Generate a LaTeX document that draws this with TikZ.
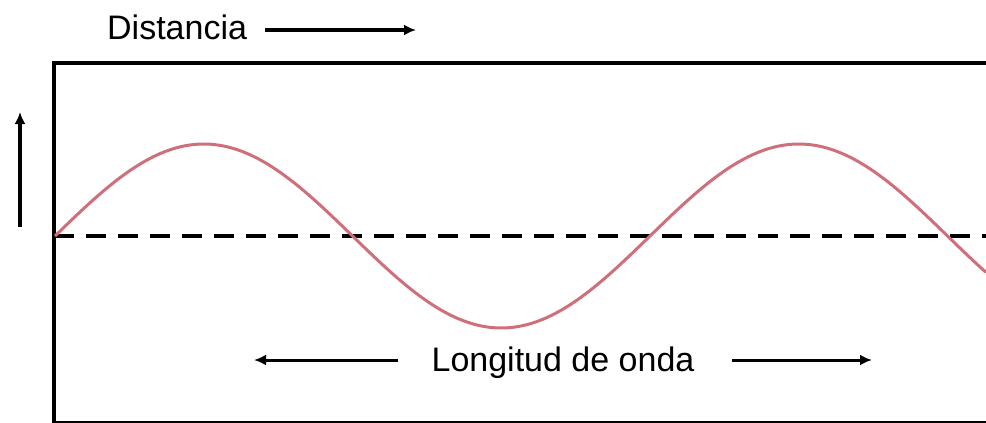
\documentclass[tikz,border=0pt]{standalone}
\usepackage{xcolor}
\usepackage{fontspec}
\setmainfont{Liberation Sans}
\usepackage{tikz}
\usetikzlibrary{positioning, arrows.meta}
\definecolor{wavered}{HTML}{CF6F7A}

\tikzset{
  lbl/.style={inner sep=0pt, font=\fontsize{34}{40}\selectfont},
  arr/.style={line width=4pt, -{Latex[length=12pt, width=11pt]}},
  thinarr/.style={line width=3pt, -{Latex[length=12pt, width=11pt]}},
  frame/.style={line width=4.5pt, line cap=rect},
  midline/.style={line width=4.5pt, dash pattern=on 20pt off 12pt},
  wave/.style={wavered, line width=3pt}
}

\begin{document}
\begin{tikzpicture}[x=1pt, y=-1pt]
    \useasboundingbox (0,0) rectangle (986,423);
    % frame and zero line
    \draw[frame] (54,423) -- (54,63) -- (986,63);
    \draw[line width=1.5pt] (54,422) -- (986,422);
    \draw[midline] (54,236) -- (986,236);
    % the wave
    \draw[wave] plot[domain=55:986, samples=240] (\x, {236-92*sin((\x-55)/595*360)});
    % labels
    \node[lbl, anchor=base west] (dist) at (107,39) {Distancia};
    \node[lbl, anchor=base] (lambda) at (563,371) {Longitud de onda};
    \coordinate (diststart) at (265,30);
    \coordinate (distend) at (416,30);
    \coordinate (upstart) at (20,227);
    \coordinate (upend) at (20,112);
    \coordinate (lstart) at (398,360);
    \coordinate (lend) at (254,360);
    \coordinate (rstart) at (732,360);
    \coordinate (rend) at (872,360);
    % arrows
    \draw[arr] (diststart) -- (distend);
    \draw[arr] (upstart) -- (upend);
    \draw[thinarr] (lstart) -- (lend);
    \draw[thinarr] (rstart) -- (rend);
  \end{tikzpicture}
\end{document}
